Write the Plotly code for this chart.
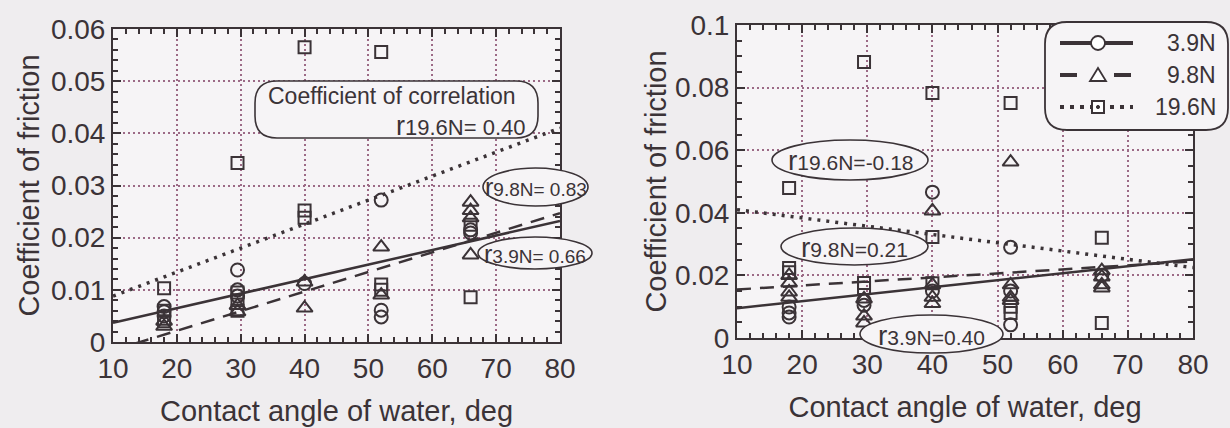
import plotly.graph_objects as go

# ---------------------------------------------------------------- data
loads = ["3.9N", "9.8N", "19.6N"]

# Panel A: coefficient of friction vs. contact angle of water
a_x_39 = [18, 18, 18, 29.5, 29.5, 29.5, 40, 52, 52, 52, 66, 66]
a_y_39 = [0.0068, 0.0058, 0.0050, 0.0138, 0.0100, 0.0088, 0.0112,
          0.0272, 0.0061, 0.0048, 0.0209, 0.0215]
a_x_98 = [18, 18, 29.5, 29.5, 40, 40, 52, 52, 66, 66, 66, 66]
a_y_98 = [0.0040, 0.0030, 0.0070, 0.0058, 0.0115, 0.0065,
          0.0182, 0.0090, 0.0268, 0.0252, 0.0238, 0.0167]
a_x_196 = [18, 18, 18, 29.5, 29.5, 29.5, 29.5, 40, 40, 40, 52, 52, 52, 66, 66, 66]
a_y_196 = [0.0103, 0.0060, 0.0040, 0.0343, 0.0095, 0.0080, 0.0060,
           0.0565, 0.0252, 0.0238, 0.0556, 0.0110, 0.0100, 0.0605, 0.0225, 0.0086]

# Panel B
b_x_39 = [18, 18, 18, 29.5, 29.5, 40, 40, 52, 52, 52, 66]
b_y_39 = [0.0099, 0.0080, 0.0067, 0.0120, 0.0105, 0.0466, 0.0150,
          0.0290, 0.0150, 0.0042, 0.0200]
b_x_98 = [18, 18, 18, 18, 29.5, 29.5, 29.5, 40, 40, 40, 40, 52, 52, 52, 52, 66, 66, 66, 66]
b_y_98 = [0.0200, 0.0176, 0.0147, 0.0130, 0.0125, 0.0070, 0.0048,
          0.0406, 0.0170, 0.0130, 0.0110, 0.0562, 0.0170, 0.0130, 0.0120,
          0.0215, 0.0195, 0.0170, 0.0160]
b_x_196 = [18, 18, 18, 29.5, 29.5, 29.5, 40, 40, 40, 52, 52, 52, 66, 66]
b_y_196 = [0.0479, 0.0224, 0.0210, 0.0882, 0.0176, 0.0160, 0.0783, 0.0323,
           0.0175, 0.0751, 0.0100, 0.0080, 0.0320, 0.0048]

# regression lines (value at x = 10 and x = 80)
fit_x = [10, 80]
a_fit_39 = [0.0037, 0.0232]
a_fit_98 = [-0.0016, 0.0247]
a_fit_196 = [0.0088, 0.0410]
b_fit_39 = [0.0095, 0.0252]
b_fit_98 = [0.0155, 0.0245]
b_fit_196 = [0.0410, 0.0225]

# coefficients of correlation, ordered like `loads`
r_a = ["0.66", "0.83", "0.40"]
r_b = ["0.40", "0.21", "-0.18"]

x_ticks = [10, 20, 30, 40, 50, 60, 70, 80]
x_ticktext = ["10", "20", "30", "40", "50", "60", "70", "80"]
a_y_ticks = [0, 0.01, 0.02, 0.03, 0.04, 0.05, 0.06]
a_y_ticktext = ["0", "0.01", "0.02", "0.03", "0.04", "0.05", "0.06"]
b_y_ticks = [0, 0.02, 0.04, 0.06, 0.08, 0.1]
b_y_ticktext = ["0", "0.02", "0.04", "0.06", "0.08", "0.1"]

x_title = "Contact angle of water, deg"
y_title = "Coefficient of friction"

# ---------------------------------------------------------------- style
W, H = 1230, 428
INK = "#3b3337"
PAPER = "#efedef"
PLOT_BG = "#f6f4f6"
GRID = "#9c6a86"
FONT = "Liberation Sans, Arial, sans-serif"


def px(x):
    return x / W


def py(y):
    return 1 - y / H


def rounded_box(x0, y0, x1, y1, r):
    pts = [
        ("M", (x0 + r, y0)), ("L", (x1 - r, y0)), ("Q", (x1, y0), (x1, y0 + r)),
        ("L", (x1, y1 - r)), ("Q", (x1, y1), (x1 - r, y1)), ("L", (x0 + r, y1)),
        ("Q", (x0, y1), (x0, y1 - r)), ("L", (x0, y0 + r)), ("Q", (x0, y0), (x0 + r, y0)),
    ]
    out = []
    for cmd, *coords in pts:
        out.append(cmd + " ".join(f"{px(cx):.5f},{py(cy):.5f}" for cx, cy in coords))
    return " ".join(out) + " Z"


def rlabel(load, val, rsize=28):
    return f'<span style="font-size:{rsize}px">r</span>{load}={val}'


fig = go.Figure()

marker_styles = {
    "3.9N": dict(symbol="circle-open", size=13),
    "9.8N": dict(symbol="triangle-up-open", size=14),
    "19.6N": dict(symbol="square-open", size=12),
}
line_styles = {
    "3.9N": dict(color=INK, width=2.5),
    "9.8N": dict(color=INK, width=2.5, dash="14px,9px"),
    "19.6N": dict(color=INK, width=3.5, dash="3px,6px"),
}

panels = [
    ("x", "y", [(a_x_39, a_y_39), (a_x_98, a_y_98), (a_x_196, a_y_196)],
     [a_fit_39, a_fit_98, a_fit_196]),
    ("x2", "y2", [(b_x_39, b_y_39), (b_x_98, b_y_98), (b_x_196, b_y_196)],
     [b_fit_39, b_fit_98, b_fit_196]),
]

for xa, ya, series, fits in panels:
    for load, fy in zip(loads, fits):
        fig.add_trace(go.Scatter(
            x=fit_x, y=fy, mode="lines", line=line_styles[load],
            xaxis=xa, yaxis=ya, showlegend=False, hoverinfo="skip"))
    for load, (sx, sy) in zip(loads, series):
        ms = marker_styles[load]
        fig.add_trace(go.Scatter(
            x=sx, y=sy, mode="markers", name=load,
            marker=dict(symbol=ms["symbol"], size=ms["size"], color=INK,
                        line=dict(color=INK, width=2)),
            xaxis=xa, yaxis=ya, showlegend=False, cliponaxis=False))

axis_common = dict(
    ticks="inside", ticklen=8, tickwidth=1.5, tickcolor=INK,
    showline=True, linewidth=2, linecolor=INK, mirror="ticks",
    showgrid=True, gridcolor=GRID, gridwidth=1.5, griddash="2px,3px",
    zeroline=False, tickfont=dict(size=28, color=INK, family=FONT),
    title_font=dict(size=29, color=INK, family=FONT), automargin=False,
)

fig.update_layout(
    width=W, height=H, margin=dict(l=0, r=0, t=0, b=0),
    paper_bgcolor=PAPER, plot_bgcolor=PLOT_BG,
    font=dict(family=FONT, color=INK),
    showlegend=False,
    xaxis=dict(axis_common, domain=[px(113), px(560)], range=[10, 80],
               tickvals=x_ticks, ticktext=x_ticktext,
               minor=dict(dtick=2, ticks="inside", ticklen=5, tickcolor=INK, showgrid=False),
               title=dict(text=x_title, standoff=18), anchor="y"),
    yaxis=dict(axis_common, domain=[py(342), py(29)], range=[0, 0.06],
               tickvals=a_y_ticks, ticktext=a_y_ticktext,
               minor=dict(dtick=0.002, ticks="inside", ticklen=5, tickcolor=INK, showgrid=False),
               title=dict(text=y_title, standoff=3), anchor="x"),
    xaxis2=dict(axis_common, domain=[px(737), px(1193)], range=[10, 80],
                tickvals=x_ticks, ticktext=x_ticktext,
                minor=dict(dtick=2, ticks="inside", ticklen=5, tickcolor=INK, showgrid=False),
                title=dict(text=x_title, standoff=18), anchor="y2"),
    yaxis2=dict(axis_common, domain=[py(338), py(25)], range=[0, 0.1],
                tickvals=b_y_ticks, ticktext=b_y_ticktext,
                minor=dict(dtick=0.005, ticks="inside", ticklen=5, tickcolor=INK, showgrid=False),
                title=dict(text=y_title, standoff=0), anchor="x2"),
)

shapes = []
annotations = []


def ellipse(x0, y0, x1, y1):
    shapes.append(dict(type="circle", xref="paper", yref="paper",
                       x0=px(x0), x1=px(x1), y0=py(y1), y1=py(y0),
                       line=dict(color=INK, width=1.6), fillcolor=PLOT_BG, layer="above"))


def label(x, y, text, xanchor="center", size=22):
    annotations.append(dict(x=px(x), y=py(y), xref="paper", yref="paper", text=text,
                            showarrow=False, xanchor=xanchor, yanchor="middle",
                            font=dict(size=size, color=INK, family=FONT)))


# panel A: correlation box and ellipses
shapes.append(dict(type="path", path=rounded_box(255, 81, 538, 138, 22),
                   xref="paper", yref="paper", line=dict(color=INK, width=1.6),
                   fillcolor=PLOT_BG, layer="above"))
label(266, 96, "Coefficient of correlation", "left", size=23)
label(527, 126, rlabel(loads[2], " " + r_a[2], 27), "right", size=22)
ellipse(483, 168, 588, 206)
label(536, 187, rlabel(loads[1], " " + r_a[1], 25), size=19)
ellipse(478, 237, 592, 269)
label(535, 254, rlabel(loads[0], " " + r_a[0], 25), size=19)

# panel B ellipses
ellipse(772, 140, 928, 180)
label(851, 161, rlabel(loads[2], r_b[2]), size=21)
ellipse(781, 228, 928, 265)
label(855, 247, rlabel(loads[1], r_b[1]), size=21)
ellipse(860, 315, 1003, 353)
label(931, 335, rlabel(loads[0], r_b[0]), size=21)

# legend box with line samples and marker glyphs
shapes.append(dict(type="path", path=rounded_box(1045, 22, 1228, 130, 22),
                   xref="paper", yref="paper", line=dict(color=INK, width=1.8),
                   fillcolor=PLOT_BG, layer="above"))
rows = [43, 75, 107]
sample_dash = ["solid", "17px,37px", "4px,6px"]
for row, dash in zip(rows, sample_dash):
    shapes.append(dict(type="line", xref="paper", yref="paper",
                       x0=px(1060), x1=px(1133), y0=py(row), y1=py(row),
                       line=dict(color=INK, width=4, dash=dash), layer="above"))
cx = 1098
shapes.append(dict(type="circle", xref="paper", yref="paper",
                   x0=px(cx - 7), x1=px(cx + 7), y0=py(rows[0] + 7), y1=py(rows[0] - 7),
                   line=dict(color=INK, width=1.8), fillcolor="white", layer="above"))
tri = (f"M{px(cx - 8):.5f},{py(rows[1] + 6):.5f} L{px(cx + 8):.5f},{py(rows[1] + 6):.5f} "
       f"L{px(cx):.5f},{py(rows[1] - 7):.5f} Z")
shapes.append(dict(type="path", path=tri, xref="paper", yref="paper",
                   line=dict(color=INK, width=1.8), fillcolor="white", layer="above"))
shapes.append(dict(type="rect", xref="paper", yref="paper",
                   x0=px(cx - 6), x1=px(cx + 6), y0=py(rows[2] + 6), y1=py(rows[2] - 6),
                   line=dict(color=INK, width=2), fillcolor="white", layer="above"))
shapes.append(dict(type="circle", xref="paper", yref="paper",
                   x0=px(cx - 1.6), x1=px(cx + 1.6), y0=py(rows[2] + 1.6), y1=py(rows[2] - 1.6),
                   line=dict(color=INK, width=1), fillcolor=INK, layer="above"))
for row, load in zip(rows, loads):
    annotations.append(dict(x=px(1218), y=py(row), xref="paper", yref="paper", text=load,
                            showarrow=False, xanchor="right", yanchor="middle",
                            font=dict(size=23, color=INK, family=FONT)))

fig.update_layout(shapes=shapes, annotations=annotations)

fig.write_html("out.html")
